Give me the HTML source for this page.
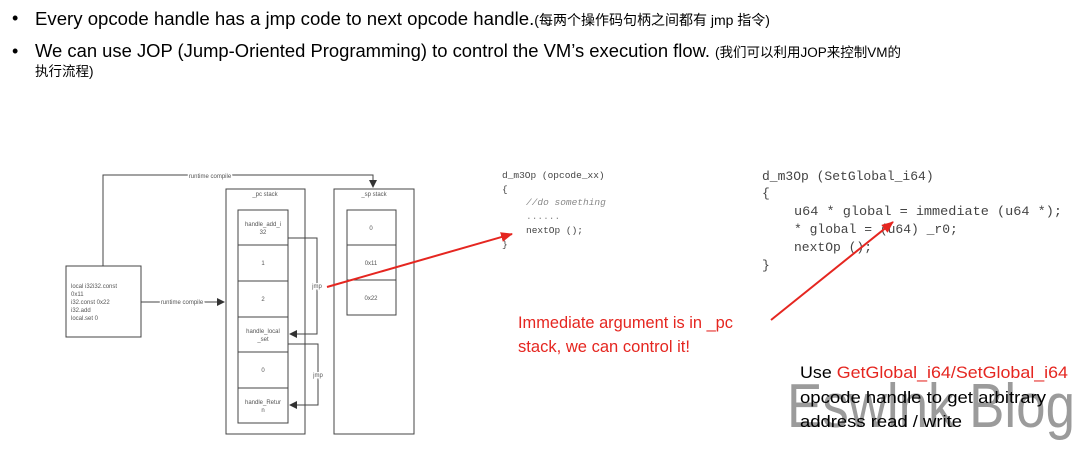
<!DOCTYPE html>
<html><head><meta charset="utf-8"><style>
body{margin:0;background:#fff;width:1080px;height:445px;overflow:hidden}
svg text{font-family:"Liberation Sans","Noto Sans CJK SC",sans-serif}
.m{font-family:"Liberation Mono","DejaVu Sans Mono",monospace}
</style></head><body>
<svg width="1080" height="445" xmlns="http://www.w3.org/2000/svg">
<defs>
<marker id="a" markerWidth="8" markerHeight="8" refX="7" refY="4" orient="auto" markerUnits="userSpaceOnUse"><path d="M0,0L8,4L0,8z" fill="#333"/></marker>
<marker id="r" markerWidth="12" markerHeight="10" refX="11" refY="5" orient="auto" markerUnits="userSpaceOnUse"><path d="M0,0L12,5L0,10z" fill="#e52620"/></marker>
</defs>
<g fill="#000">
<text x="12" y="24" font-size="18">•</text>
<text x="35" y="25" font-size="18.6">Every opcode handle has a jmp code to next opcode handle.<tspan font-size="14">(每两个操作码句柄之间都有 jmp 指令)</tspan></text>
<text x="12" y="57" font-size="18">•</text>
<text x="35" y="57" font-size="18.6" textLength="675" lengthAdjust="spacingAndGlyphs">We can use JOP (Jump-Oriented Programming) to control the VM’s execution flow.</text>
<text x="715" y="57" font-size="13.5">(我们可以利用JOP来控制VM的</text>
<text x="35" y="76" font-size="13.5">执行流程)</text>
</g>
<g stroke="#444" fill="none" stroke-width="1">
<rect x="66" y="266" width="75" height="71"/>
<rect x="226" y="189" width="79" height="245"/>
<rect x="334" y="189" width="80" height="245"/>
<rect x="238" y="210" width="50" height="213"/>
<line x1="238" y1="245" x2="288" y2="245"/><line x1="238" y1="281" x2="288" y2="281"/>
<line x1="238" y1="317" x2="288" y2="317"/><line x1="238" y1="352" x2="288" y2="352"/>
<line x1="238" y1="388" x2="288" y2="388"/>
<rect x="347" y="210" width="49" height="105"/>
<line x1="347" y1="245" x2="396" y2="245"/><line x1="347" y1="280" x2="396" y2="280"/>
<path d="M103,266V175H373V187" marker-end="url(#a)"/>
<path d="M141,302H224" marker-end="url(#a)"/>
<path d="M288,238H317V334H290" marker-end="url(#a)"/>
<path d="M288,344H318V405H290" marker-end="url(#a)"/>
</g>
<g font-size="6" fill="#555" text-anchor="middle">
<text x="210" y="178" style="paint-order:stroke" stroke="#fff" stroke-width="3">runtime compile</text>
<text x="182" y="304" style="paint-order:stroke" stroke="#fff" stroke-width="3">runtime compile</text>
<text x="265" y="196">_pc stack</text><text x="374" y="196">_sp stack</text>
<text x="263" y="226">handle_add_i</text><text x="263" y="234">32</text>
<text x="263" y="265">1</text><text x="263" y="301">2</text>
<text x="263" y="333">handle_local</text><text x="263" y="341">_set</text>
<text x="263" y="372">0</text>
<text x="263" y="404">handle_Retur</text><text x="263" y="412">n</text>
<text x="371" y="230">0</text><text x="371" y="265">0x11</text><text x="371" y="300">0x22</text>
<text x="317" y="288" style="paint-order:stroke" stroke="#fff" stroke-width="3">jmp</text>
<text x="318" y="377" style="paint-order:stroke" stroke="#fff" stroke-width="3">jmp</text>
</g>
<g font-size="6" fill="#555">
<text x="71" y="288">local i32i32.const</text><text x="71" y="296">0x11</text>
<text x="71" y="304">i32.const 0x22</text><text x="71" y="312">i32.add</text><text x="71" y="320">local.set 0</text>
</g>
<g class="m" font-size="9.5" fill="#444">
<text x="502" y="178" class="m">d_m3Op  (opcode_xx)</text>
<text x="502" y="192" class="m">{</text>
<text x="526" y="205" class="m" font-style="italic" fill="#888">//do something</text>
<text x="526" y="219" class="m" fill="#888">......</text>
<text x="526" y="233" class="m">nextOp ();</text>
<text x="502" y="247" class="m">}</text>
</g>
<g font-size="13" fill="#444">
<text x="762" y="180" class="m">d_m3Op  (SetGlobal_i64)</text>
<text x="762" y="197" class="m">{</text>
<text x="794" y="215" class="m" textLength="268" lengthAdjust="spacingAndGlyphs">u64 * global = immediate (u64 *);</text>
<text x="794" y="233" class="m">* global = (u64) _r0;</text>
<text x="794" y="251" class="m">nextOp ();</text>
<text x="762" y="269" class="m">}</text>
</g>
<line x1="327" y1="287" x2="512" y2="234" stroke="#e52620" stroke-width="2" marker-end="url(#r)"/>
<line x1="771" y1="320" x2="893" y2="222" stroke="#e52620" stroke-width="2" marker-end="url(#r)"/>
<g font-size="16.5" fill="#e52620">
<text x="518" y="328" textLength="215" lengthAdjust="spacingAndGlyphs">Immediate argument is in _pc</text>
<text x="518" y="352" textLength="172" lengthAdjust="spacingAndGlyphs">stack, we can control it!</text>
</g>
<text x="787" y="427" font-size="62" fill="#8a8a8a" opacity="0.85" textLength="288" lengthAdjust="spacingAndGlyphs">Eswlnk Blog</text>
<g font-size="17" fill="#000">
<text x="800" y="378" textLength="268" lengthAdjust="spacingAndGlyphs">Use <tspan fill="#e52620">GetGlobal_i64/SetGlobal_i64</tspan></text>
<text x="800" y="403" textLength="246" lengthAdjust="spacingAndGlyphs">opcode handle to get arbitrary</text>
<text x="800" y="427" textLength="162" lengthAdjust="spacingAndGlyphs">address read / write</text>
</g>
</svg>
</body></html>
